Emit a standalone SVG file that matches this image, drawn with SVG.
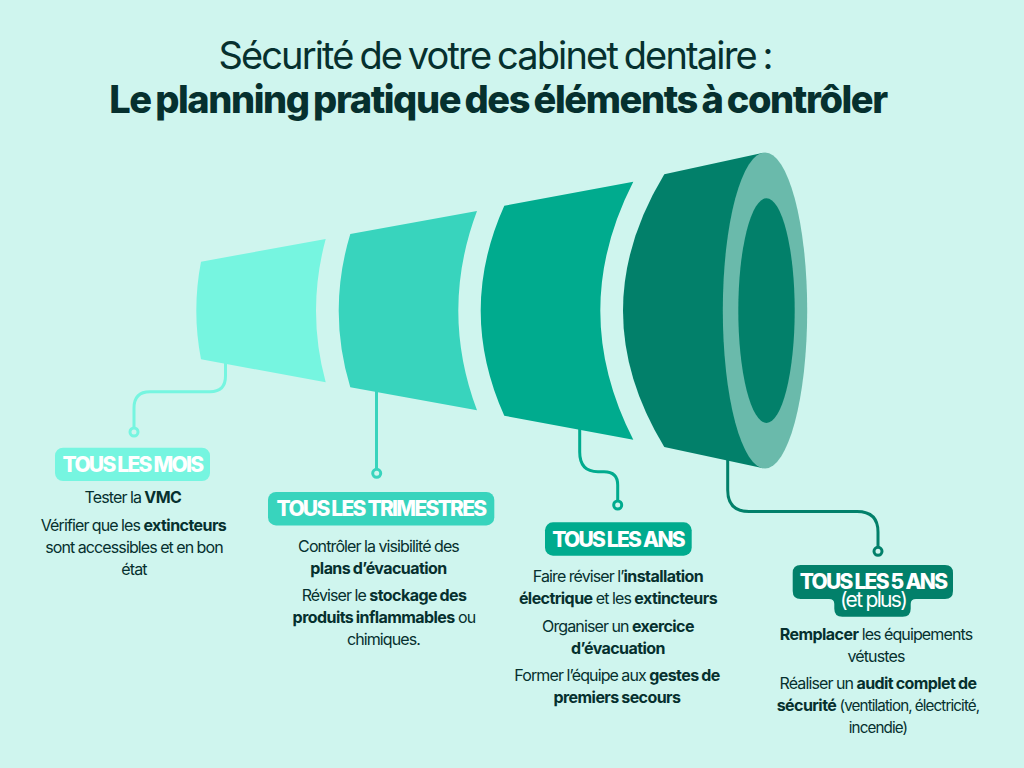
<svg xmlns="http://www.w3.org/2000/svg" width="1024" height="768" viewBox="0 0 1024 768">
<style>
text{font-family:Inter,"Liberation Sans",sans-serif;text-anchor:middle;fill:#06302E}
.t1{font-size:38px;letter-spacing:-1.85px;word-spacing:-2.1px}
.t2{font-size:38px;font-weight:800;letter-spacing:-1.42px;word-spacing:-2.4px}
.b{font-size:16px;letter-spacing:-.88px;word-spacing:-.3px}
.b tspan{font-weight:700;letter-spacing:-.56px;word-spacing:-.7px}
.b .s{font-size:15.200px;font-weight:400;letter-spacing:-.88px;word-spacing:-.3px}
.p{font-size:21px;font-weight:800;fill:#fff;letter-spacing:-1.75px;word-spacing:0}
.p2{font-size:21px;font-weight:400;fill:#fff;letter-spacing:-1.7px}
.c{fill:none;stroke-width:3}
.d{fill:#CFF5EE;stroke-width:3}
</style>
<rect width="1024" height="768" fill="#CFF5EE"/>
<g id="title">
<text class="t1" x="495" y="68.500">Sécurité de votre cabinet dentaire :</text>
<text class="t2" x="498" y="113">Le planning pratique des éléments à contrôler</text>
</g>
<g id="connectors">
<path class="c" stroke="#76F5E0" d="M225.500 360V376Q225.500 391.700 210 391.700H150Q134 391.700 134 408V427"/>
<circle class="d" stroke="#76F5E0" cx="134" cy="432" r="4"/>
<path class="c" stroke="#38D4BD" d="M376.500 385V469"/>
<circle class="d" stroke="#38D4BD" cx="376.700" cy="473.300" r="4"/>
<path class="c" stroke="#00AB8E" d="M579.700 425V452Q579.700 471.700 598 471.700H604Q617.700 471.700 617.700 485V500"/>
<circle class="d" stroke="#00AB8E" cx="617.700" cy="505" r="4"/>
<path class="c" stroke="#02806A" d="M727.700 455V490Q727.700 511.500 749 511.500H857Q878 511.500 878 532V547"/>
<circle class="d" stroke="#02806A" cx="878" cy="551.300" r="4"/>
</g>
<g id="funnel-1"><path fill="#76F5E0" d="M201 261.700L325.700 239Q306.300 310.600 325.700 382.300L201 359.300Q191.600 310.500 201 261.700Z"/></g>
<g id="funnel-2"><path fill="#38D4BD" d="M350.300 234L477 211Q439.600 310.600 477 410.300L350.300 387.300Q327.100 310.600 350.300 234Z"/></g>
<g id="funnel-3"><path fill="#00AB8E" d="M504.300 205.700L633.300 181.700Q567.300 310.700 633.300 439.700L504.300 415.700Q457.100 310.700 504.300 205.700Z"/></g>
<g id="funnel-4">
<path fill="#02806A" d="M664.300 174.300L763.300 152.700V468.300L664.300 447Q581.700 310.700 664.300 174.300Z"/>
<ellipse fill="#6ABAAB" cx="765" cy="310.500" rx="42.200" ry="158"/>
<ellipse fill="#02806A" cx="766.500" cy="310.600" rx="28.200" ry="112.300"/>
</g>
<g id="node-mois">
<rect x="55" y="447.700" width="155" height="33.400" rx="8" fill="#76F5E0"/>
<text class="p" x="132.500" y="472">TOUS LES MOIS</text>
<text class="b" x="133" y="503">Tester la <tspan>VMC</tspan></text>
<text class="b" x="133.500" y="531">Vérifier que les <tspan>extincteurs</tspan></text>
<text class="b" x="134" y="553">sont accessibles et en bon</text>
<text class="b" x="134" y="575">état</text>
</g>
<g id="node-trimestres">
<rect x="268" y="492" width="226.300" height="33.400" rx="8" fill="#38D4BD"/>
<text class="p" x="381" y="516.300">TOUS LES TRIMESTRES</text>
<text class="b" x="378.500" y="552">Contrôler la visibilité des</text>
<text class="b" x="378.500" y="574"><tspan>plans d’évacuation</tspan></text>
<text class="b" x="384" y="601">Réviser le <tspan>stockage des</tspan></text>
<text class="b" x="384" y="623"><tspan>produits inflammables</tspan> ou</text>
<text class="b" x="383.500" y="645">chimiques.</text>
</g>
<g id="node-ans">
<rect x="545" y="522.300" width="146.700" height="33.400" rx="8" fill="#00AB8E"/>
<text class="p" x="618" y="546.600">TOUS LES ANS</text>
<text class="b" x="618" y="582">Faire réviser l’<tspan>installation</tspan></text>
<text class="b" x="618" y="604"><tspan>électrique</tspan> et les <tspan>extincteurs</tspan></text>
<text class="b" x="618" y="632">Organiser un <tspan>exercice</tspan></text>
<text class="b" x="618" y="654"><tspan>d’évacuation</tspan></text>
<text class="b" x="617" y="681">Former l’équipe aux <tspan>gestes de</tspan></text>
<text class="b" x="617" y="703"><tspan>premiers secours</tspan></text>
</g>
<g id="node-5ans">
<path fill="#02806A" d="M800.700 565H945Q953 565 953 573V591Q953 599 945 599H916Q910.700 599 910.700 604V608.700Q910.700 616.700 902.700 616.700H842.300Q834.300 616.700 834.300 608.700V604Q834.300 599 829 599H800.700Q792.700 599 792.700 591V573Q792.700 565 800.700 565Z"/>
<text class="p" x="873" y="589">TOUS LES 5 ANS</text>
<text class="p2" x="873" y="607">(et plus)</text>
<text class="b" x="876" y="640"><tspan>Remplacer</tspan> les équipements</text>
<text class="b" x="876" y="662">vétustes</text>
<text class="b" x="878" y="689">Réaliser un <tspan>audit complet de</tspan></text>
<text class="b" x="878" y="711"><tspan>sécurité</tspan> <tspan class="s">(ventilation, électricité,</tspan></text>
<text class="b" x="878" y="733"><tspan class="s">incendie)</tspan></text>
</g>
</svg>
